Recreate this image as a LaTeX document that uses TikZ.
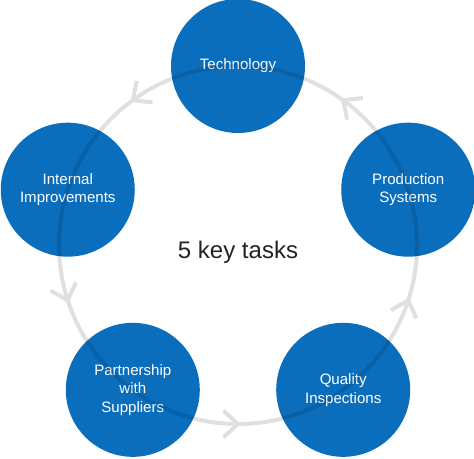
\documentclass[tikz,border=0pt]{standalone}
\usepackage{fontspec}
\setmainfont{Liberation Sans}
\usetikzlibrary{decorations.markings}
\definecolor{taskblue}{HTML}{0A6EBD}
\colorlet{ringgrey}{black!12}
\definecolor{titlegrey}{HTML}{222222}
\tikzset{
  task/.style={circle, fill=taskblue, text=white, minimum size=100.5pt,
    inner sep=0pt, align=center, font=\fontsize{11.3}{14}\selectfont},
  ringarc/.style={draw=black, draw opacity=0.12, line width=3pt,
    postaction={decorate},
    decoration={markings,
      mark=at position 0.5 with {\draw[ringgrey, draw opacity=1, line width=3pt]
        (-11pt,10pt) -- (0,0) -- (-11pt,-10pt);}}}
}

\begin{document}
\begin{tikzpicture}[x=0.75pt,y=0.75pt]
  \useasboundingbox (-238,-213) rectangle (236,245);
  % the five tasks round the ring
  \node[task] (tech)    at (90:179)  {Technology};
  \node[task] (intern)  at (162:179) {Internal\\Improvements};
  \node[task] (partner) at (234:179) {Partnership\\with\\Suppliers};
  \node[task] (quality) at (306:179) {Quality\\Inspections};
  \node[task] (prod)    at (18:179)  {Production\\Systems};
  \node[text=titlegrey, font=\fontsize{18}{22}\selectfont] (title) at (0,-7) {5 key tasks};
  % ring over the circles, counterclockwise
  \draw[ringarc] (tech.center) arc[start angle=90, end angle=162, radius=179];
  \draw[ringarc] (intern.center) arc[start angle=162, end angle=234, radius=179];
  \draw[ringarc] (partner.center) arc[start angle=234, end angle=306, radius=179];
  \draw[ringarc] (quality.center) arc[start angle=306, end angle=378, radius=179];
  \draw[ringarc] (prod.center) arc[start angle=18, end angle=90, radius=179];
\end{tikzpicture}
\end{document}
